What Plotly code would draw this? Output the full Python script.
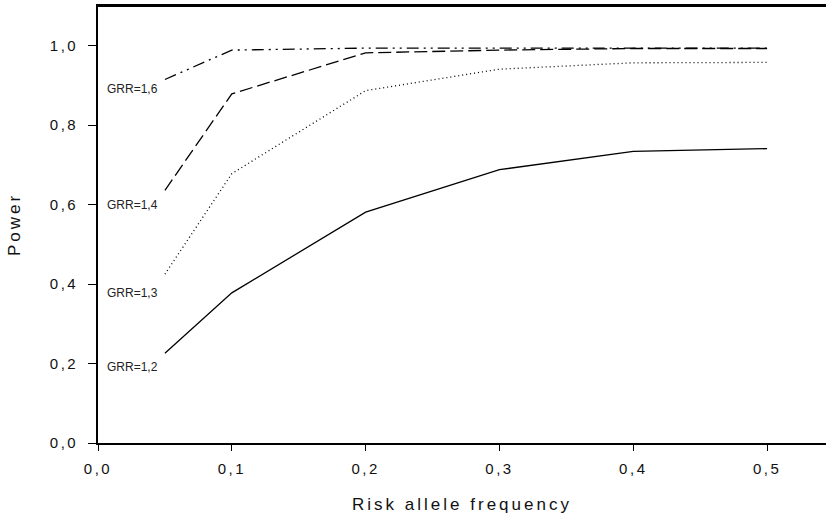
import plotly.graph_objects as go

freq = [0.05, 0.1, 0.2, 0.3, 0.4, 0.5]
grr_12 = [0.226, 0.378, 0.581, 0.688, 0.734, 0.741]
grr_13 = [0.425, 0.678, 0.887, 0.941, 0.957, 0.958]
grr_14 = [0.636, 0.879, 0.982, 0.989, 0.993, 0.993]
grr_16 = [0.915, 0.989, 0.994, 0.994, 0.994, 0.994]

series = [
    ("GRR=1,2", grr_12, "solid", 0.192),
    ("GRR=1,3", grr_13, "1px,3px", 0.377),
    ("GRR=1,4", grr_14, "13px,5px", 0.598),
    ("GRR=1,6", grr_16, "12px,5px,2px,5px,2px,5px", 0.892),
]

fig = go.Figure()
for name, vals, dash, ly in series:
    fig.add_trace(go.Scatter(x=freq, y=vals, mode="lines", name=name,
                             line=dict(color="black", width=1.3, dash=dash)))
    fig.add_annotation(x=0.026, y=ly, text=name, showarrow=False,
                       font=dict(size=12, color="#222", family="Liberation Sans, Arial"),
                       xanchor="center", yanchor="middle")

# top frame line
fig.add_shape(type="line", xref="paper", yref="paper", x0=0, x1=1, y0=1, y1=1,
              line=dict(color="black", width=1.8), layer="above")

fig.update_layout(
    width=826, height=519,
    margin=dict(l=98, r=0, t=6, b=76),
    plot_bgcolor="white", paper_bgcolor="white",
    showlegend=False,
    separators=", ",
    font=dict(family="Liberation Sans, Arial", color="black"),
    xaxis=dict(range=[0, 0.544], tickvals=[0, 0.1, 0.2, 0.3, 0.4, 0.5],
               tickformat=".1f", showgrid=False, zeroline=False, automargin=False,
               showline=True, linecolor="black", linewidth=1.6, mirror=True,
               ticks="outside", ticklen=6, tickwidth=1.2, tickcolor="black",
               tickfont=dict(size=15, color="#111"), ticklabelstandoff=5,
               title=dict(text="Risk allele frequency", font=dict(size=17, color="#111"), standoff=22)),
    yaxis=dict(range=[0, 1.1], tickvals=[0, 0.2, 0.4, 0.6, 0.8, 1.0],
               tickformat=".1f", showgrid=False, zeroline=False, automargin=False,
               showline=True, linecolor="black", linewidth=1.6, mirror=False,
               ticks="outside", ticklen=8, tickwidth=1.2, tickcolor="black",
               tickfont=dict(size=15, color="#111"), ticklabelstandoff=7,
               title=dict(text="Power", font=dict(size=17, color="#111"), standoff=32)),
)

post = """
document.documentElement.style.margin = '0';
document.body.style.margin = '0';
document.body.style.padding = '0';
document.querySelectorAll('.xtitle, .ytitle').forEach(function(e){ e.style.letterSpacing = '3px'; });
document.querySelectorAll('.xtick text, .ytick text').forEach(function(e){ e.style.letterSpacing = '2.5px'; });
"""

fig.write_html("out.html", post_script=post, config={"displayModeBar": False})
